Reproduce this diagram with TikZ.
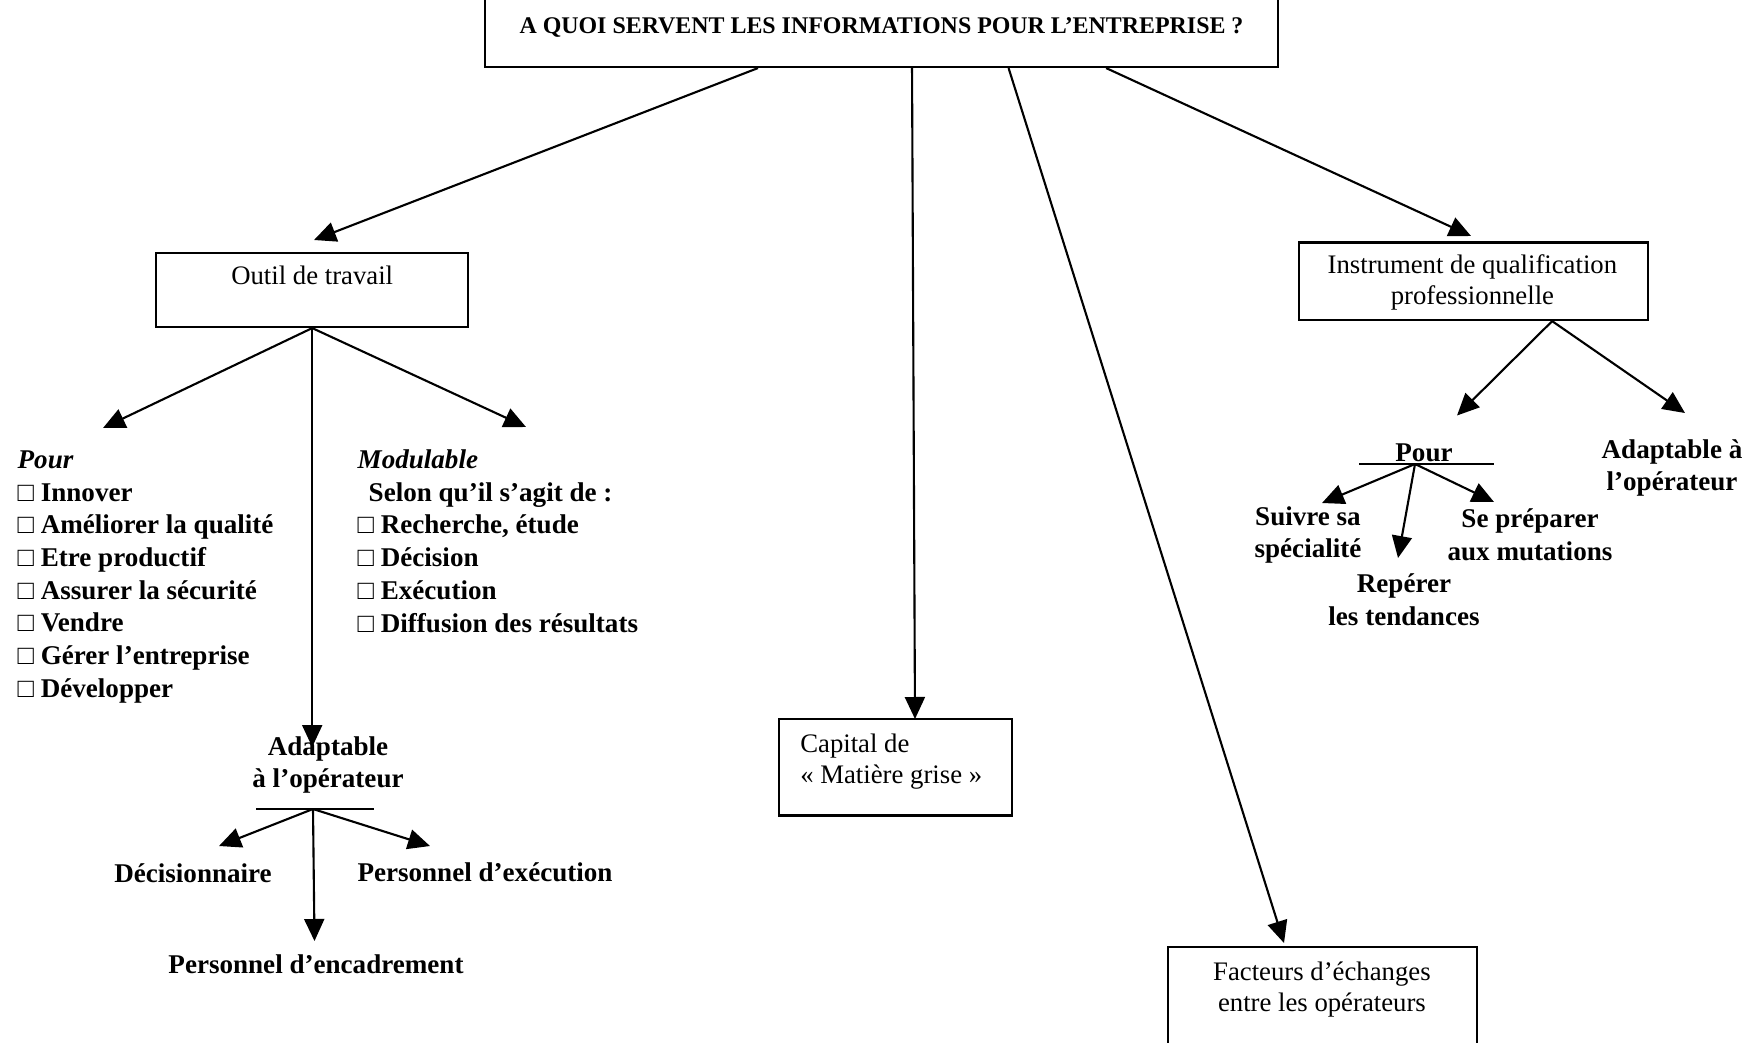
\documentclass[tikz,border=0pt]{standalone}
\usepackage{fontspec}
\setmainfont{Liberation Serif}
\usetikzlibrary{arrows.meta}

\tikzset{
  box/.style={draw, line width=0.6pt, inner sep=0pt},
  boxtxt/.style={font=\fontsize{7.6}{8.8}\selectfont, inner sep=0pt},
  lbl/.style={font=\fontsize{7.7}{9.3}\selectfont\bfseries, inner sep=0pt, align=center},
  lst/.style={font=\fontsize{7.7}{9.3}\selectfont\bfseries, inner sep=0pt, align=left, anchor=north west},
  arr/.style={line width=0.6pt, -{Triangle[length=2.2mm,width=2mm]}},
  bar/.style={line width=0.6pt},
}

\begin{document}
\begin{tikzpicture}[x=0.01cm,y=-0.01cm]
        \useasboundingbox (0,0) rectangle (1761,1042);
        \clip (0,0) rectangle (1761,1042);

        % boxes
        \node[box, minimum width=7.93cm, minimum height=0.8cm,
              font=\fontsize{6.8}{8}\selectfont\bfseries] (title) at (881.5,27)
        {A QUOI SERVENT LES INFORMATIONS POUR L’ENTREPRISE ?};
        \node[box, boxtxt, minimum width=3.12cm, text height=0.31cm,
              text depth=0.43cm, anchor=base] (outil) at (312.2,284)
        {Outil de travail};
        \node[box, minimum width=3.48cm, minimum height=0.775cm] (instr) at (1473.5,281.3) {};
        \node[boxtxt, align=center] (instrtxt) at (1472.4,282.5)
        {Instrument de qualification\\professionnelle};
        \node[box, minimum width=2.325cm, minimum height=0.966cm] (capital) at (895.6,767.1) {};
        \node[boxtxt, align=left, anchor=west] (captxt) at (799.6,761.5)
        {Capital de\\« Matière grise »};
        \node[box, minimum width=3.09cm, minimum height=1.23cm] (facteurs) at (1322.5,1008.4) {};
        \node[boxtxt, align=center] (factxt) at (1321.9,989.5)
        {Facteurs d’échanges\\entre les opérateurs};

        % lists
        \node[lst] (pourlst) at (17,450)
        {\textit{Pour}\\□ Innover\\□ Améliorer la qualité\\□ Etre productif\\
         □ Assurer la sécurité\\□ Vendre\\□ Gérer l’entreprise\\□ Développer};
        \node[lst] (modlst) at (357,449)
        {\textit{Modulable}\\\hspace*{0.11cm}Selon qu’il s’agit de :\\□ Recherche, étude\\
         □ Décision\\□ Exécution\\□ Diffusion des résultats};

        % labels
        \node[lbl] (adapt) at (328,765) {Adaptable\\à l’opérateur};
        \node[lbl] (decis) at (193,873) {Décisionnaire};
        \node[lbl] (persexe) at (485,872) {Personnel d’exécution};
        \node[lbl] (persenc) at (316,964) {Personnel d’encadrement};
        \node[lbl] (pourR) at (1424,453) {Pour};
        \node[lbl] (suivre) at (1308,535) {Suivre sa\\spécialité};
        \node[lbl] (seprep) at (1530,535) {Se préparer\\aux mutations};
        \node[lbl] (reperer) at (1404,600) {Repérer\\les tendances};
        \node[lbl] (adaptR) at (1672,468) {Adaptable à\\l’opérateur};

        % arrow ends and junctions
        \coordinate (tA1) at (314,240);
        \coordinate (tA2) at (915,719);
        \coordinate (tA3) at (1284,943);
        \coordinate (tA4) at (1471,236);
        \coordinate (tB1) at (103,428);
        \coordinate (tB2) at (312.2,747);
        \coordinate (tB3) at (526,427);
        \coordinate (bar1w) at (256,809);
        \coordinate (bar1e) at (374,809);
        \coordinate (j1) at (313,809);
        \coordinate (tC1) at (219,846);
        \coordinate (tC2) at (314.5,941);
        \coordinate (tC3) at (430,846);
        \coordinate (jI) at ([xshift=0.786cm]instr.south);
        \coordinate (tD1) at (1457,415.5);
        \coordinate (tD2) at (1685,413);
        \coordinate (bar2w) at (1359,464);
        \coordinate (bar2e) at (1494,464);
        \coordinate (j2) at (1415,464);
        \coordinate (tE1) at (1322,503);
        \coordinate (tE2) at (1398,558);
        \coordinate (tE3) at (1494,502);

        % connectors
        \draw[arr] ([xshift=-1.235cm]title.south) -- (tA1);
        \draw[arr] ([xshift=0.305cm]title.south) -- (tA2);
        \draw[arr] ([xshift=1.27cm]title.south) -- (tA3);
        \draw[arr] ([xshift=2.245cm]title.south) -- (tA4);

        \foreach \t in {tB1,tB2,tB3}
            \draw[arr] (outil.south) -- (\t);
        \draw[bar] (bar1w) -- (bar1e);
        \foreach \t in {tC1,tC2,tC3}
            \draw[arr] (j1) -- (\t);

        \foreach \t in {tD1,tD2}
            \draw[arr] (jI) -- (\t);
        \draw[bar] (bar2w) -- (bar2e);
        \foreach \t in {tE1,tE2,tE3}
            \draw[arr] (j2) -- (\t);
\end{tikzpicture}
\end{document}
